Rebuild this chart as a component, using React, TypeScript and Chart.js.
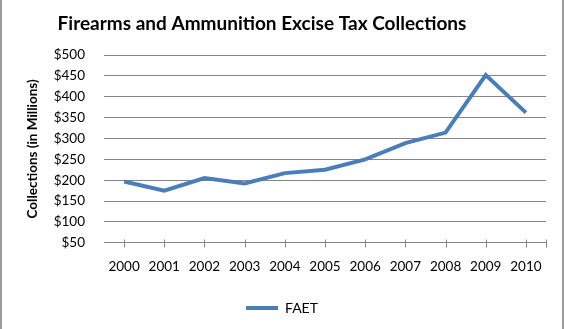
import React, { useEffect, useRef } from "react";
import { Chart, registerables } from "chart.js";

Chart.register(...registerables);

const TITLE = "Firearms and Ammunition Excise Tax Collections";
const Y_TITLE = "Collections (in Millions)";
const SERIES_LABEL = "FAET";
const YEARS = ["2000", "2001", "2002", "2003", "2004", "2005", "2006", "2007", "2008", "2009", "2010"];
const FAET_VALUES = [197, 175, 205, 192, 217, 225, 250, 289, 314, 452, 362];
const Y_MIN = 50;
const Y_MAX = 500;
const Y_STEP = 50;

const BLUE = "#4A7EBB";
const GRID = "#868686";
const FONT = "Lato, 'Liberation Sans', sans-serif";

const decorations = {
  id: "decorations",
  afterDraw(chart: any) {
    const ctx = chart.ctx;
    const x = chart.scales.x;
    const area = chart.chartArea;
    const y = Math.round(area.bottom) + 0.5;
    ctx.save();
    // tick marks crossing the x axis
    ctx.strokeStyle = GRID;
    ctx.lineWidth = 1;
    ctx.beginPath();
    const xs: number[] = [];
    for (let i = 0; i < YEARS.length; i++) xs.push(x.getPixelForValue(i));
    xs.push(area.right);
    xs.forEach((px) => {
      const p = Math.round(px) + 0.5;
      ctx.moveTo(p, y - 4);
      ctx.lineTo(p, y + 4);
    });
    ctx.stroke();
    // title
    ctx.fillStyle = "#000";
    ctx.font = "bold 19px " + FONT;
    ctx.textAlign = "center";
    ctx.textBaseline = "middle";
    ctx.fillText(TITLE, 262, 24);
    // chart border (left and right)
    ctx.strokeStyle = "#9a9a9a";
    ctx.lineWidth = 2;
    ctx.beginPath();
    ctx.moveTo(1, 0);
    ctx.lineTo(1, chart.height);
    ctx.moveTo(chart.width - 1, 0);
    ctx.lineTo(chart.width - 1, chart.height);
    ctx.stroke();
    ctx.restore();
  },
};

export default function App() {
  const ref = useRef<HTMLCanvasElement>(null);
  useEffect(() => {
    document.body.style.margin = "0";
    const chart = new Chart(ref.current!, {
      type: "line",
      data: {
        labels: YEARS,
        datasets: [
          {
            label: SERIES_LABEL,
            data: FAET_VALUES,
            borderColor: BLUE,
            backgroundColor: BLUE,
            borderWidth: 4,
            pointRadius: 0,
            tension: 0,
          },
        ],
      },
      options: {
        animation: false,
        responsive: false,
        layout: { padding: { left: 18, right: 18, top: 55, bottom: 4 } },
        plugins: {
          title: { display: false },
          legend: {
            position: "bottom",
            labels: {
              color: "#000",
              font: { family: FONT, size: 14 },
              boxWidth: 32,
              boxHeight: 4,
              padding: 10,
              generateLabels: (c: any) =>
                Chart.defaults.plugins.legend.labels
                  .generateLabels(c)
                  .map((l: any) => ({ ...l, lineWidth: 0 })),
            },
          },
          tooltip: { enabled: false },
        },
        scales: {
          x: {
            offset: true,
            grid: { display: false, drawTicks: false },
            border: { display: true, color: GRID, width: 1 },
            ticks: {
              color: "#000",
              font: { family: FONT, size: 13.5 },
              padding: 16,
              maxRotation: 0,
            },
          },
          y: {
            min: Y_MIN,
            max: Y_MAX,
            afterFit(scale: any) {
              scale.width = 86;
            },
            grid: { color: GRID, drawTicks: false },
            border: { display: false },
            ticks: {
              stepSize: Y_STEP,
              color: "#000",
              font: { family: FONT, size: 13.5 },
              padding: 19,
              callback: (v: any) => "$" + v,
            },
            title: {
              display: true,
              text: Y_TITLE,
              color: "#000",
              font: { family: FONT, size: 13.5, weight: "bold" },
              padding: { top: 7, bottom: 0 },
            },
          },
        },
      },
      plugins: [decorations],
    });
    return () => chart.destroy();
  }, []);
  return <canvas ref={ref} width={564} height={329} style={{ display: "block" }} />;
}
